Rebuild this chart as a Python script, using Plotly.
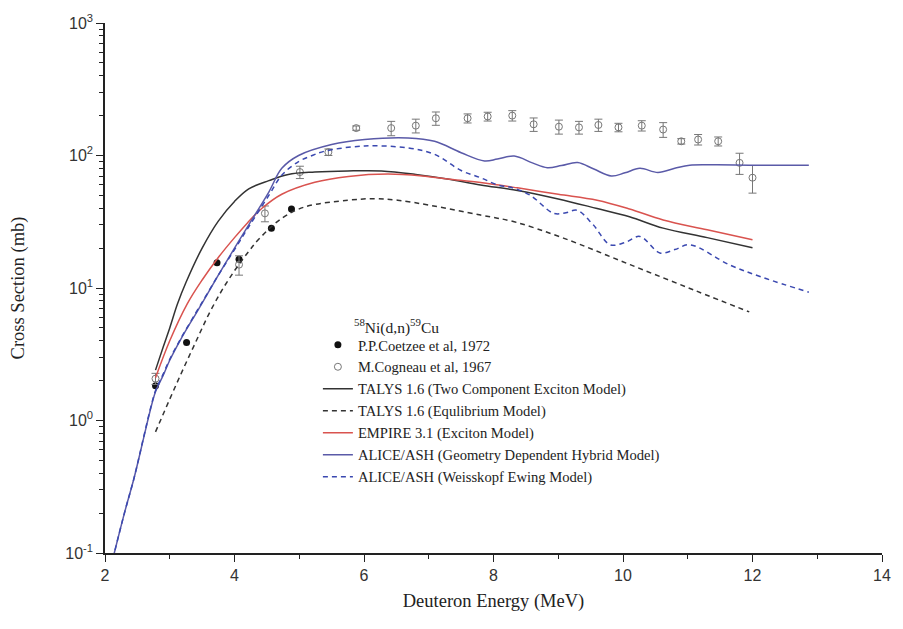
import plotly.graph_objects as go

# ---------------- data ----------------
coetzee_x = [2.78, 3.26, 3.73, 4.07, 4.57, 4.88]
coetzee_y = [1.83, 3.88, 15.5, 16.5, 28.3, 39.4]

cogneau_x = [2.78, 4.07, 4.47, 5.01, 5.45, 5.88, 6.42, 6.80, 7.11, 7.60, 7.91, 8.29,
             8.62, 9.01, 9.32, 9.62, 9.93, 10.29, 10.62, 10.90, 11.16, 11.47, 11.80, 12.0]
cogneau_y = [2.07, 15.0, 36.6, 75, 106, 161, 161, 168, 191, 191, 197, 200,
             172, 165, 163, 170, 163, 168, 157, 128, 132, 128, 88, 68]
cogneau_err = [0.2, 2.5, 5, 8, 6, 6, 20, 20, 22, 15, 15, 18,
               20, 20, 18, 18, 12, 15, 20, 6, 12, 10, 16, 16]

talys_tce_x = [2.78, 2.9, 3.0, 3.12, 3.25, 3.5, 3.75, 4.0, 4.22, 4.53, 4.83, 5.24, 5.75,
               6.27, 6.8, 7.29, 7.8, 8.37, 9.0, 9.6, 10.1, 10.62, 11.3, 12.0]
talys_tce_y = [2.4, 3.6, 5.0, 7.6, 11, 20, 32, 45, 56, 64.6, 72, 75, 76.5,
               76.5, 72, 66.5, 60, 54.5, 47, 39.8, 34.5, 28.3, 24, 20.1]

talys_eq_x = [2.78, 3.0, 3.2, 3.4, 3.6, 3.8, 4.0, 4.22, 4.37, 4.73, 5.09, 5.76, 6.17,
              6.52, 7.03, 7.8, 8.32, 9.08, 10.11, 11.13, 11.95]
talys_eq_y = [0.82, 1.45, 2.4, 3.9, 6.3, 9.5, 13.5, 18.9, 23.2, 33.6, 41, 46, 47.2,
              46, 42, 35.5, 31.6, 23.8, 15, 9.5, 6.6]

empire_x = [2.78, 3.0, 3.27, 3.5, 3.75, 4.0, 4.2, 4.42, 4.73, 5.24, 5.76, 6.37, 6.9,
            7.29, 7.8, 8.37, 9.0, 9.6, 10.1, 10.62, 11.3, 12.0]
empire_y = [2.1, 4.0, 7.6, 11.5, 17, 24, 31, 39.8, 51, 62.8, 69.5, 72.4, 70,
            66.5, 62.5, 57, 51, 46, 39.5, 32.6, 27.5, 23.1]

alice_gdh_x = [2.12, 2.3, 2.45, 2.6, 2.7, 2.78, 2.9, 3.0, 3.17, 3.45, 3.75, 4.0, 4.22,
               4.53, 4.73, 4.99, 5.5, 6.01, 6.68, 7.09, 7.5, 7.86, 8.06, 8.32, 8.6,
               8.83, 9.05, 9.3, 9.55, 9.82, 10.03, 10.26, 10.54, 10.8, 11.03, 11.44,
               12.0, 12.87]
alice_gdh_y = [0.09, 0.2, 0.37, 0.75, 1.2, 1.65, 2.2, 2.85, 4.1, 7.0, 12.5, 20, 30,
               53, 80, 100, 121, 132, 135.6, 128, 105, 91, 94, 99, 88,
               81, 84, 88.5, 79, 70, 74, 80, 74.5, 80, 84.5, 85,
               84.5, 84.5]

alice_we_x = [2.12, 2.3, 2.45, 2.6, 2.7, 2.78, 2.9, 3.0, 3.17, 3.45, 3.75, 4.0, 4.22,
              4.53, 4.73, 4.99, 5.2, 5.4, 6.01, 6.68, 7.09, 7.5, 7.8, 8.06, 8.3, 8.57,
              8.93, 9.12, 9.29, 9.54, 9.8, 10.03, 10.26, 10.57, 10.8, 11.03, 11.64,
              12.16, 12.87]
alice_we_y = [0.09, 0.2, 0.37, 0.76, 1.22, 1.68, 2.25, 2.9, 4.15, 7.1, 12.5, 19.5, 29,
              50, 71, 90, 100, 108, 118, 114, 102, 77, 68, 60, 57, 50,
              36.6, 37, 38.6, 30, 21.2, 22, 24.5, 18.4, 19.5, 21.2, 15,
              12, 9.3]

y_tickvals = [0.1, 1, 10, 100, 1000]
y_ticktext = ["10<sup>-1</sup>", "10<sup>0</sup>", "10<sup>1</sup>", "10<sup>2</sup>", "10<sup>3</sup>"]
x_tickvals = [2, 4, 6, 8, 10, 12, 14]

# ---------------- figure ----------------
serif = "Liberation Serif, Times New Roman, serif"
sans = "Liberation Sans, Arial, sans-serif"

fig = go.Figure()
fig.add_trace(go.Scatter(x=coetzee_x, y=coetzee_y, mode="markers", name="P.P.Coetzee et al, 1972",
                         marker=dict(symbol="circle", size=7, color="#111")))
fig.add_trace(go.Scatter(x=cogneau_x, y=cogneau_y, mode="markers", name="M.Cogneau et al, 1967",
                         marker=dict(symbol="circle-open", size=7, color="#777", line=dict(width=1)),
                         error_y=dict(type="data", array=cogneau_err, color="#777", thickness=1, width=4)))
fig.add_trace(go.Scatter(x=talys_tce_x, y=talys_tce_y, mode="lines",
                         name="TALYS 1.6 (Two Component Exciton Model)",
                         line=dict(color="#333333", width=1.5, shape="spline")))
fig.add_trace(go.Scatter(x=talys_eq_x, y=talys_eq_y, mode="lines",
                         name="TALYS 1.6 (Equlibrium Model)",
                         line=dict(color="#333333", width=1.5, dash="5px,4px", shape="spline")))
fig.add_trace(go.Scatter(x=empire_x, y=empire_y, mode="lines",
                         name="EMPIRE 3.1 (Exciton Model)",
                         line=dict(color="#d9534f", width=1.5, shape="spline")))
fig.add_trace(go.Scatter(x=alice_gdh_x, y=alice_gdh_y, mode="lines",
                         name="ALICE/ASH (Geometry Dependent Hybrid Model)",
                         line=dict(color="#5a5aa8", width=1.5, shape="spline")))
fig.add_trace(go.Scatter(x=alice_we_x, y=alice_we_y, mode="lines",
                         name="ALICE/ASH (Weisskopf Ewing Model)",
                         line=dict(color="#3a48b0", width=1.5, dash="5px,4px", shape="spline")))

fig.add_annotation(text="<sup>58</sup>Ni(d,n)<sup>59</sup>Cu", xref="paper", yref="paper",
                   x=0.318, y=0.428, xanchor="left", yanchor="middle", showarrow=False,
                   font=dict(family=serif, size=15.5, color="#222"))

fig.update_layout(
    width=903, height=629,
    margin=dict(l=105, r=17, t=15, b=76),
    paper_bgcolor="white", plot_bgcolor="white",
    showlegend=True,
    legend=dict(x=0.274, y=0.423, xanchor="left", yanchor="top", bgcolor="rgba(0,0,0,0)",
                font=dict(family=serif, size=14.6, color="#222"), tracegroupgap=0),
    font=dict(family=sans, color="#333"),
)
fig.update_xaxes(range=[2, 14], tickvals=x_tickvals, showgrid=False, zeroline=False,
                 showline=True, linecolor="#222", linewidth=1.5,
                 ticks="outside", ticklen=7, tickwidth=1.2, tickcolor="#222",
                 tickfont=dict(family=sans, size=16, color="#333"),
                 minor=dict(tickvals=[3, 5, 7, 9, 11, 13], ticks="outside", ticklen=4,
                            tickwidth=1, tickcolor="#222"),
                 title=dict(text="Deuteron Energy (MeV)", font=dict(family=serif, size=18.5, color="#222"),
                            standoff=11))
minor_y = [m * 10 ** e for e in (-1, 0, 1, 2) for m in range(2, 10)]
fig.update_yaxes(type="log", range=[-1, 3], tickvals=y_tickvals, ticktext=y_ticktext,
                 showgrid=False, zeroline=False,
                 showline=True, linecolor="#222", linewidth=1.5,
                 ticks="outside", ticklen=7, tickwidth=1.2, tickcolor="#222",
                 tickfont=dict(family=sans, size=16, color="#333"),
                 minor=dict(tickvals=minor_y, ticks="outside", ticklen=4, tickwidth=1, tickcolor="#222"),
                 title=dict(text="Cross Section (mb)", font=dict(family=serif, size=18.5, color="#222"),
                            standoff=36))

fig.write_html("out.html", config={"displayModeBar": False},
               post_script="document.body.style.margin='0px';document.body.style.overflow='hidden';")
